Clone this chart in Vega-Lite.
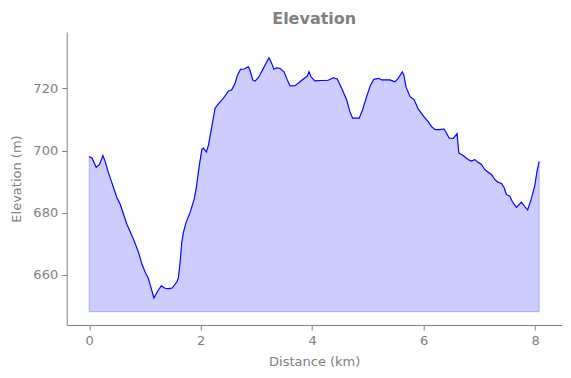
{
  "$schema": "https://vega.github.io/schema/vega-lite/v6.json",
  "autosize": "none",
  "width": 495,
  "height": 293,
  "padding": {"left": 66.7, "top": 32, "right": 9.3, "bottom": 53},
  "background": "white",
  "title": {"text": "Elevation", "font": "DejaVu Sans", "fontSize": 16, "fontWeight": "bold", "color": "#808080", "anchor": "middle", "offset": 5},
  "config": {
    "view": {"stroke": null},
    "axis": {
      "grid": false,
      "labelFont": "DejaVu Sans", "labelFontSize": 13, "labelColor": "#808080",
      "titleFont": "DejaVu Sans", "titleFontSize": 13, "titleColor": "#808080", "titleFontWeight": "normal",
      "domainColor": "#808080", "tickColor": "#808080", "tickSize": 5, "domainWidth": 1, "tickWidth": 1
    }
  },
  "data": {"values": [
    {"d":0,"e":698.0},{"d":0.05,"e":697.6},{"d":0.125,"e":694.6},{"d":0.185,"e":695.5},{"d":0.245,"e":698.4},
    {"d":0.286,"e":696.5},{"d":0.346,"e":692.8},{"d":0.407,"e":689.6},{"d":0.496,"e":684.9},{"d":0.556,"e":682.7},
    {"d":0.615,"e":679.5},{"d":0.676,"e":676.3},{"d":0.735,"e":673.9},{"d":0.794,"e":671.5},{"d":0.884,"e":667.3},
    {"d":0.945,"e":663.5},{"d":1.004,"e":660.9},{"d":1.063,"e":658.8},{"d":1.106,"e":656.1},{"d":1.161,"e":652.6},
    {"d":1.219,"e":654.5},{"d":1.294,"e":656.5},{"d":1.362,"e":655.7},{"d":1.421,"e":655.6},{"d":1.487,"e":655.8},
    {"d":1.571,"e":657.7},{"d":1.600,"e":659.1},{"d":1.631,"e":664.1},{"d":1.661,"e":670.5},{"d":1.690,"e":673.7},
    {"d":1.738,"e":676.9},{"d":1.810,"e":680.1},{"d":1.882,"e":684.3},{"d":1.927,"e":688.6},{"d":1.959,"e":693.3},
    {"d":2.020,"e":700.3},{"d":2.048,"e":700.8},{"d":2.102,"e":699.5},{"d":2.142,"e":701.9},{"d":2.199,"e":707.7},
    {"d":2.258,"e":713.6},{"d":2.317,"e":715.0},{"d":2.407,"e":716.8},{"d":2.496,"e":719.1},{"d":2.557,"e":719.5},
    {"d":2.616,"e":721.6},{"d":2.658,"e":724.1},{"d":2.715,"e":726.1},{"d":2.778,"e":726.2},{"d":2.855,"e":726.9},
    {"d":2.885,"e":725.8},{"d":2.934,"e":722.7},{"d":2.975,"e":722.3},{"d":3.034,"e":723.4},{"d":3.124,"e":726.4},
    {"d":3.185,"e":728.5},{"d":3.226,"e":729.8},{"d":3.274,"e":728.0},{"d":3.315,"e":726.1},{"d":3.364,"e":726.6},
    {"d":3.423,"e":726.4},{"d":3.495,"e":725.3},{"d":3.554,"e":722.7},{"d":3.602,"e":720.8},{"d":3.692,"e":720.8},
    {"d":3.781,"e":722.1},{"d":3.871,"e":723.4},{"d":3.912,"e":723.9},{"d":3.943,"e":725.3},{"d":3.978,"e":723.7},
    {"d":4.050,"e":722.4},{"d":4.140,"e":722.5},{"d":4.289,"e":722.6},{"d":4.378,"e":723.4},{"d":4.450,"e":723.0},
    {"d":4.529,"e":720.0},{"d":4.618,"e":716.3},{"d":4.677,"e":712.5},{"d":4.726,"e":710.4},{"d":4.844,"e":710.4},
    {"d":4.905,"e":713.1},{"d":4.977,"e":717.3},{"d":5.048,"e":721.1},{"d":5.108,"e":722.9},{"d":5.197,"e":723.2},
    {"d":5.246,"e":722.7},{"d":5.394,"e":722.7},{"d":5.484,"e":722.1},{"d":5.543,"e":723.2},{"d":5.618,"e":725.3},
    {"d":5.645,"e":724.2},{"d":5.686,"e":720.3},{"d":5.758,"e":717.3},{"d":5.830,"e":716.3},{"d":5.901,"e":713.4},
    {"d":5.991,"e":711.2},{"d":6.081,"e":709.3},{"d":6.142,"e":707.7},{"d":6.201,"e":706.8},{"d":6.278,"e":706.7},
    {"d":6.367,"e":706.9},{"d":6.416,"e":705.4},{"d":6.457,"e":704.0},{"d":6.529,"e":703.9},{"d":6.600,"e":705.4},
    {"d":6.631,"e":699.2},{"d":6.708,"e":698.4},{"d":6.797,"e":697.1},{"d":6.858,"e":696.6},{"d":6.918,"e":697.1},
    {"d":6.977,"e":696.2},{"d":7.038,"e":695.5},{"d":7.097,"e":693.9},{"d":7.156,"e":693.0},{"d":7.217,"e":692.3},
    {"d":7.276,"e":690.7},{"d":7.335,"e":689.8},{"d":7.396,"e":689.4},{"d":7.443,"e":688.1},{"d":7.486,"e":685.8},
    {"d":7.545,"e":685.4},{"d":7.593,"e":683.5},{"d":7.665,"e":681.7},{"d":7.755,"e":683.4},{"d":7.814,"e":682.0},
    {"d":7.867,"e":680.9},{"d":7.934,"e":684.6},{"d":7.993,"e":688.6},{"d":8.034,"e":693.3},{"d":8.073,"e":696.5}
  ]},
  "encoding": {
    "x": {"field": "d", "type": "quantitative", "scale": {"domain": [-0.404, 8.477], "nice": false, "zero": false},
          "axis": {"values": [0, 2, 4, 6, 8], "title": "Distance (km)", "labelPadding": 4, "titlePadding": 8}},
    "y": {"field": "e", "type": "quantitative", "scale": {"domain": [643.9, 738.1], "nice": false, "zero": false},
          "axis": {"values": [660, 680, 700, 720], "title": "Elevation (m)", "labelPadding": 4, "titlePadding": 9}}
  },
  "layer": [
    {"mark": {"type": "area", "fill": "#0000ff", "fillOpacity": 0.2, "stroke": "#0000ff", "strokeOpacity": 0.2, "strokeWidth": 1.2},
     "encoding": {"y2": {"datum": 648.2}}},
    {"mark": {"type": "line", "color": "#0000ff", "strokeWidth": 1.1}}
  ]
}
